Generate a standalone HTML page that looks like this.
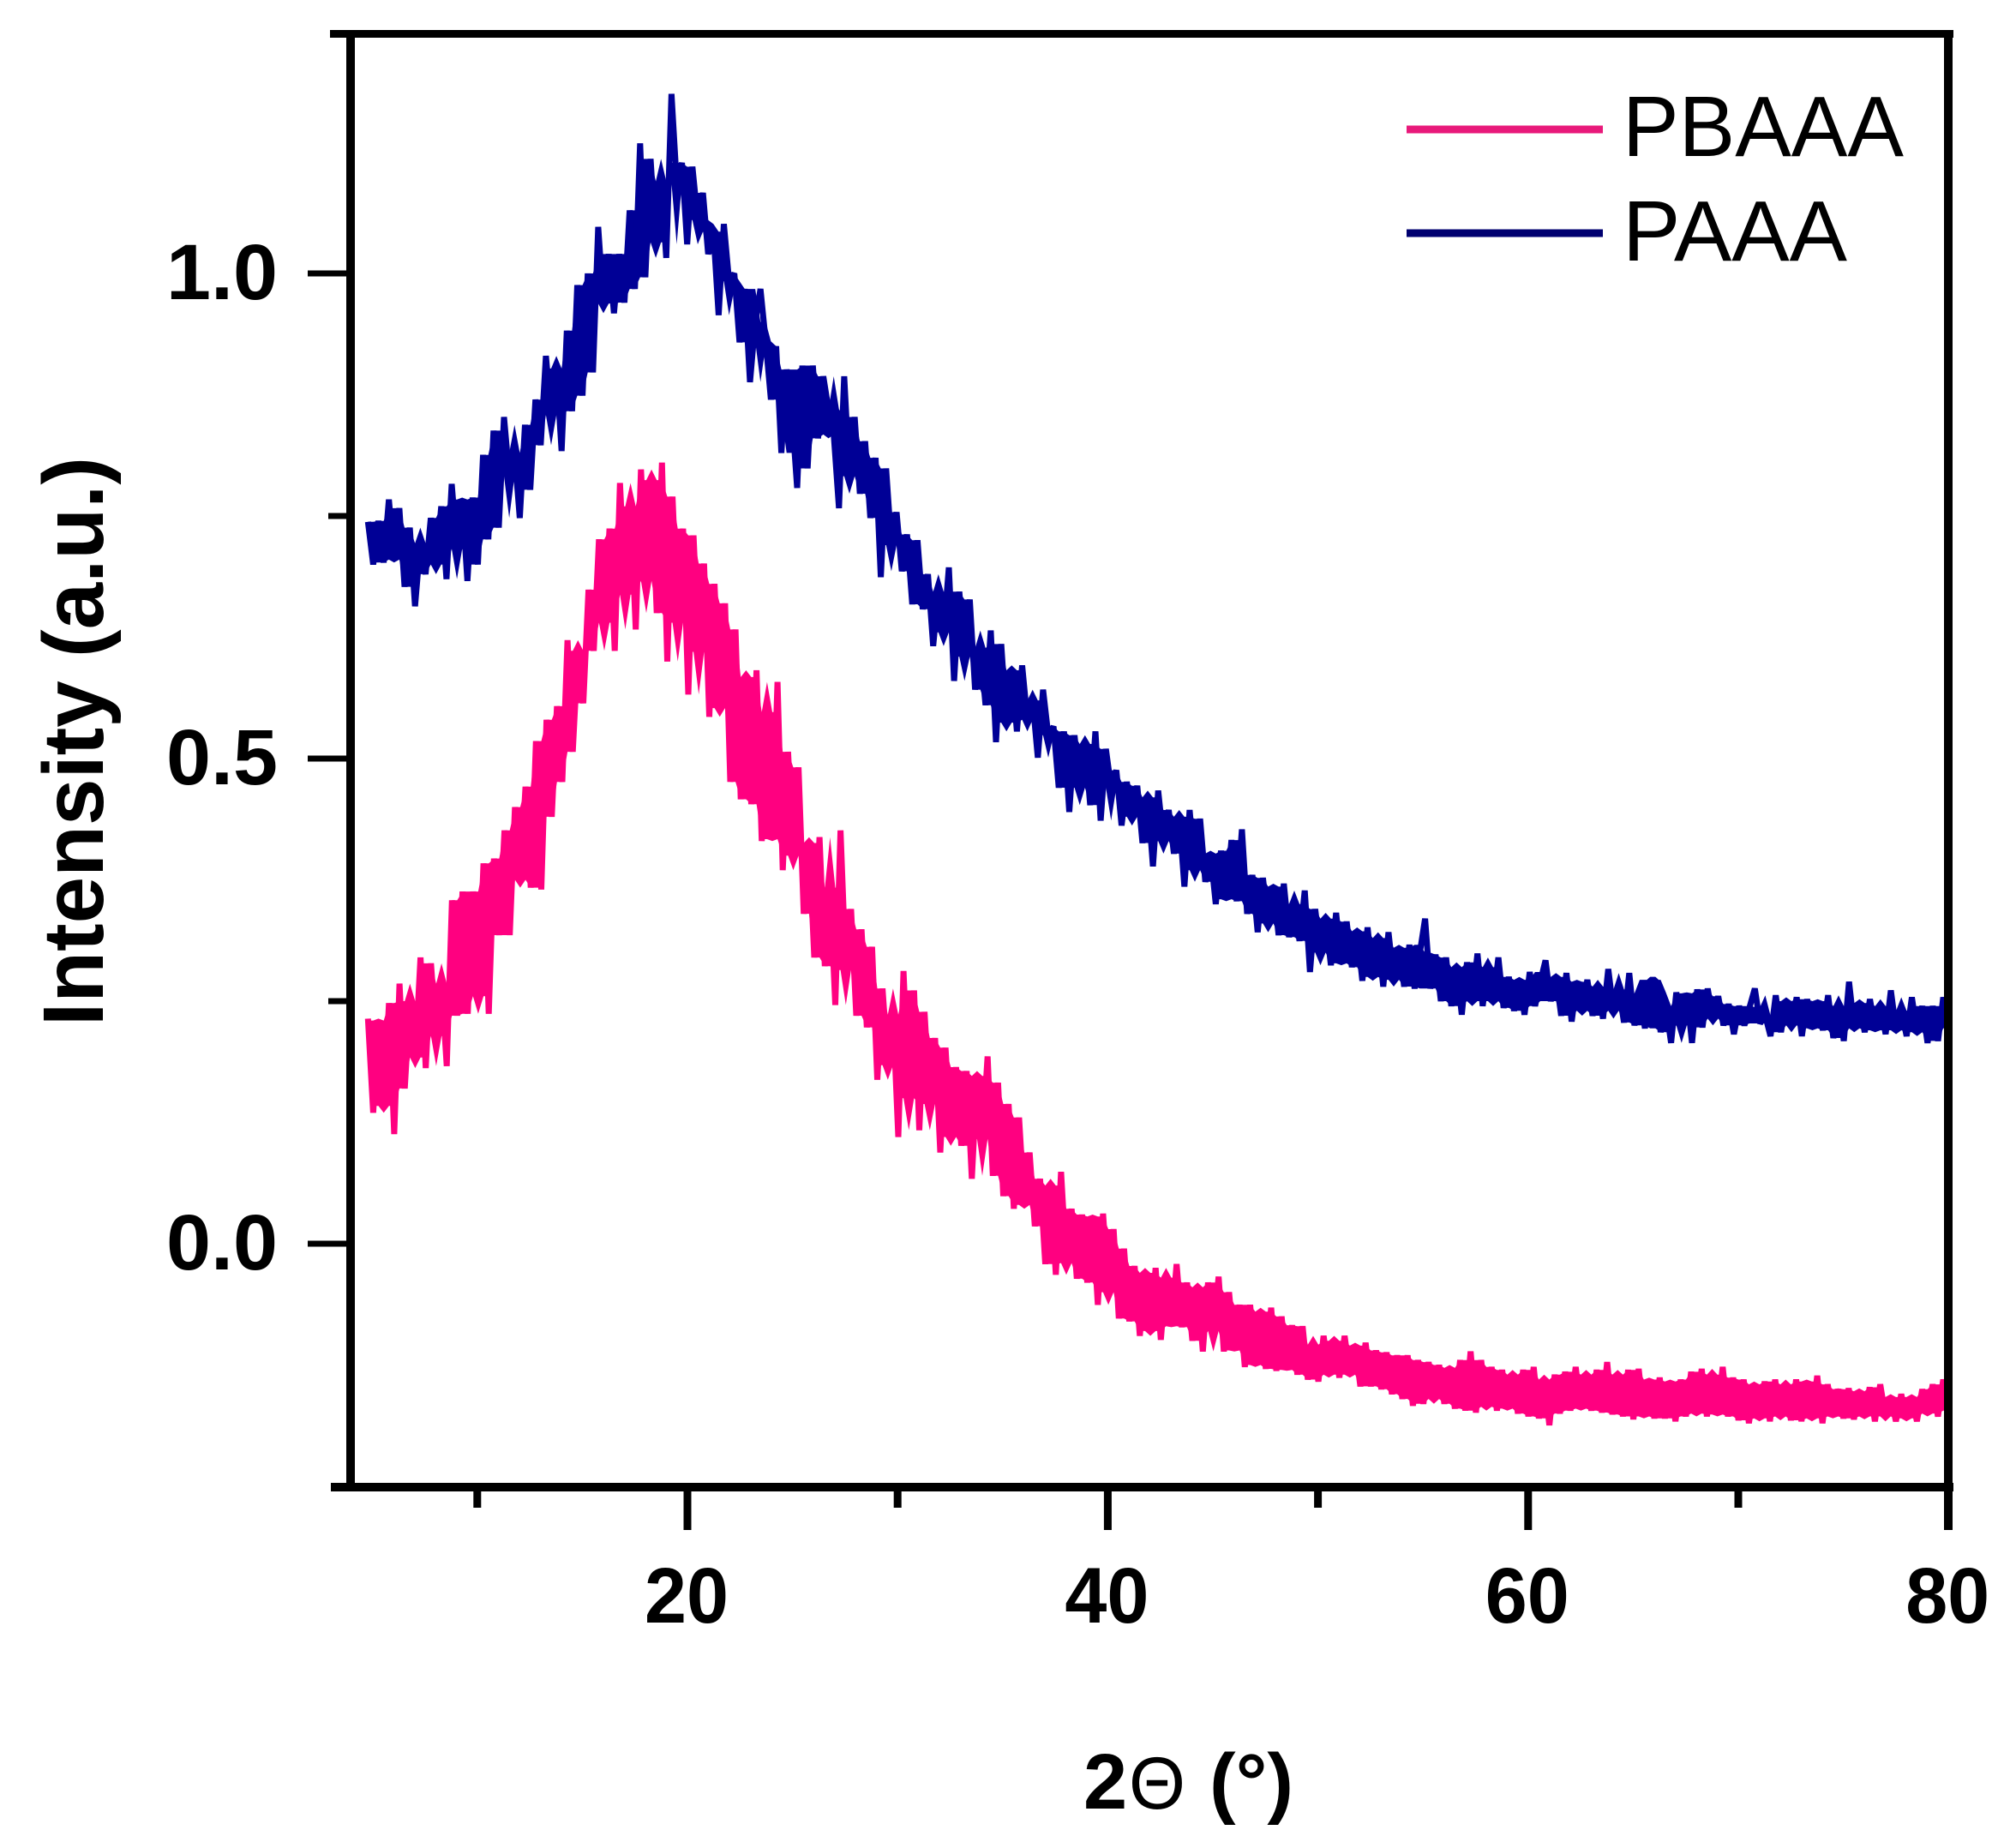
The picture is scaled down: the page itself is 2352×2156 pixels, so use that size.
<!DOCTYPE html>
<html lang="en">
<head>
<meta charset="utf-8">
<title>XRD patterns of PBAAA and PAAA</title>
<style>
html,body{margin:0;padding:0;background:#fff;}
svg{display:block;}
text{font-family:"Liberation Sans",sans-serif;fill:#000;}
</style>
</head>
<body>
<svg id="chart" xmlns="http://www.w3.org/2000/svg" width="2352" height="2156" viewBox="0 0 2352 2156">
  <rect x="0" y="0" width="2352" height="2156" fill="#ffffff"/>
  <g id="series"></g>
  <g id="axes"></g>
  <g id="labels"></g>
  <text transform="translate(120,1197) rotate(-90)" font-size="100" font-weight="700" textLength="664" lengthAdjust="spacingAndGlyphs">Intensity (a.u.)</text>
  <text y="2110" font-size="92" font-weight="700"><tspan x="1264">2</tspan><tspan x="1317" font-size="86" font-weight="400" textLength="66" lengthAdjust="spacingAndGlyphs">Θ</tspan><tspan x="1411">(°)</tspan></text>
  <g>
    <line x1="1641" y1="151" x2="1870" y2="151" stroke="#e8197a" stroke-width="9"/>
    <text x="1893" y="182" font-size="100" textLength="328" lengthAdjust="spacingAndGlyphs">PBAAA</text>
    <line x1="1641" y1="272" x2="1870" y2="272" stroke="#000070" stroke-width="9"/>
    <text x="1893" y="304" font-size="100" textLength="262" lengthAdjust="spacingAndGlyphs">PAAA</text>
  </g>
</svg>
<script>
var xStart = 4.8;
var xEnd = 80;
var xMajorTicks = [20, 40, 60, 80];
var xMinorTicks = [10, 30, 50, 70];
var yMajorTicks = [0, 0.5, 1];
var yMinorTicks = [-0.25, 0.25, 0.75, 1.25];
var xTickLabels = ["20", "40", "60", "80"];
var yTickLabels = ["0.0", "0.5", "1.0"];
var paaaValues = [
.744,.700,.745,.702,.767,.705,.758,.677,.738,.657,.722,.690,.748,.700,.760,.685,.783,.716,.767,.683,
.769,.700,.813,.726,.838,.738,.852,.791,.815,.748,.844,.777,.870,.823,.915,.854,.902,.817,.941,.858,
.988,.874,1.000,.898,1.048,.969,1.020,.959,1.020,.970,1.065,.984,1.134,.996,1.118,1.032,1.095,1.016,1.185,1.093,
1.114,1.030,1.110,1.055,1.083,1.020,1.043,.957,1.051,.992,1.000,.929,.984,.888,.950,.984,.930,.870,.925,.815,
.901,.855,.779,.905,.799,.905,.830,.894,.860,.834,.758,.894,.791,.852,.773,.827,.748,.810,.687,.799,
.720,.754,.693,.731,.659,.725,.654,.690,.616,.672,.630,.697,.580,.672,.605,.664,.571,.614,.555,.632,
.517,.618,.537,.591,.528,.596,.540,.560,.501,.571,.524,.533,.470,.528,.445,.524,.470,.515,.452,.528,
.436,.510,.470,.488,.431,.476,.440,.472,.413,.460,.389,.467,.415,.447,.402,.440,.368,.447,.385,.438,
.373,.402,.350,.405,.355,.416,.353,.427,.340,.380,.321,.377,.330,.368,.318,.371,.316,.350,.312,.364,
.280,.345,.300,.335,.287,.341,.289,.332,.285,.322,.271,.326,.275,.315,.265,.321,.272,.305,.265,.308,
.263,.300,.335,.263,.298,.250,.295,.245,.285,.236,.290,.250,.299,.245,.285,.250,.295,.243,.275,.240,
.272,.236,.280,.245,.270,.292,.250,.275,.235,.279,.229,.270,.240,.272,.235,.265,.232,.283,.240,.262,
.228,.279,.225,.258,.222,.272,.272,.218,.245,.207,.259,.225,.258,.207,.262,.223,.263,.232,.255,.225,
.247,.216,.245,.225,.244,.263,.227,.235,.214,.256,.218,.250,.225,.254,.214,.252,.222,.250,.220,.256,
.212,.245,.209,.270,.222,.248,.218,.252,.220,.245,.216,.261,.220,.240,.214,.254,.218,.245,.207,.245,
.209,.254,.222
];
var pbaaaValues = [
.232,.135,.230,.142,.248,.113,.268,.160,.250,.192,.295,.181,.289,.214,.268,.183,.354,.235,.363,.237,
.363,.255,.392,.237,.397,.318,.426,.318,.450,.375,.471,.367,.518,.365,.540,.440,.554,.476,.622,.507,
.611,.557,.674,.611,.726,.640,.737,.611,.784,.669,.760,.633,.798,.683,.787,.650,.805,.600,.770,.640,
.737,.566,.730,.610,.701,.543,.680,.552,.660,.476,.633,.458,.584,.453,.591,.415,.548,.417,.579,.385,
.507,.400,.491,.340,.413,.295,.419,.286,.367,.246,.426,.282,.345,.235,.324,.223,.306,.169,.263,.184,
.236,.110,.281,.150,.261,.117,.239,.144,.212,.094,.202,.110,.182,.101,.178,.067,.173,.108,.193,.070,
.166,.049,.144,.036,.130,.040,.094,.018,.067,-.021,.060,-.032,.074,-.020,.036,-.036,.030,-.040,.028,-.063,
.031,-.050,.015,-.077,-.005,-.080,-.023,-.095,-.030,-.090,-.025,-.099,-.035,-.085,-.021,-.086,-.040,-.100,-.045,-.111,
-.040,-.090,-.034,-.111,-.050,-.110,-.063,-.127,-.063,-.125,-.070,-.129,-.066,-.131,-.075,-.130,-.084,-.135,-.085,-.140,
-.104,-.142,-.095,-.135,-.100,-.138,-.095,-.135,-.105,-.147,-.102,-.147,-.110,-.150,-.112,-.155,-.115,-.160,-.115,-.167,
-.120,-.165,-.122,-.160,-.125,-.165,-.128,-.170,-.120,-.172,-.111,-.174,-.120,-.168,-.127,-.172,-.130,-.170,-.135,-.175,
-.130,-.178,-.127,-.180,-.140,-.187,-.135,-.175,-.132,-.172,-.127,-.170,-.135,-.172,-.130,-.174,-.122,-.176,-.135,-.178,
-.130,-.181,-.129,-.178,-.140,-.180,-.138,-.180,-.142,-.183,-.140,-.178,-.132,-.175,-.129,-.178,-.135,-.176,-.127,-.178,
-.138,-.182,-.140,-.185,-.145,-.180,-.142,-.183,-.140,-.178,-.145,-.182,-.140,-.183,-.142,-.180,-.136,-.185,-.145,-.178,
-.150,-.180,-.149,-.181,-.152,-.178,-.148,-.183,-.145,-.178,-.158,-.183,-.155,-.180,-.158,-.183,-.150,-.175,-.145,-.178,
-.140,-.172
];

var NS = "http://www.w3.org/2000/svg";
function xScale(d) { return 802 + (d - 20) * 24.52; }
function yScale(v) { return 1451 - 1132 * v; }

var seriesLayer = document.getElementById("series");
var axesLayer = document.getElementById("axes");
var labelsLayer = document.getElementById("labels");

function drawSeries(values, colour) {
  var step = (xEnd - xStart) / (values.length - 1);
  var pts = [];
  for (var i = 0; i < values.length; i++) {
    pts.push(xScale(xStart + i * step).toFixed(1) + "," + yScale(values[i]).toFixed(1));
  }
  var line = document.createElementNS(NS, "polyline");
  line.setAttribute("points", pts.join(" "));
  line.setAttribute("fill", "none");
  line.setAttribute("stroke", colour);
  line.setAttribute("stroke-width", "7");
  line.setAttribute("stroke-linejoin", "bevel");
  return line;
}

// The trace is so dense in the original that it reads as a solid band:
// fill between the 2nd-lowest and 2nd-highest sample of each local window,
// leaving the single extreme spikes to the polyline on top.
function drawBand(values, colour) {
  var step = (xEnd - xStart) / (values.length - 1);
  var upper = [];
  var lower = [];
  for (var i = 0; i < values.length; i++) {
    var from = Math.max(0, i - 2);
    var to = Math.min(values.length - 1, i + 2);
    var win = values.slice(from, to + 1).sort(function (a, b) { return a - b; });
    var x = xScale(xStart + i * step).toFixed(1);
    upper.push(x + "," + yScale(win[win.length - 2]).toFixed(1));
    lower.unshift(x + "," + yScale(win[1]).toFixed(1));
  }
  var band = document.createElementNS(NS, "polygon");
  band.setAttribute("points", upper.concat(lower).join(" "));
  band.setAttribute("fill", colour);
  return band;
}

var pbaaaBand = drawBand(pbaaaValues, "#ff0080");


seriesLayer.appendChild(pbaaaBand);

var pbaaaLine = drawSeries(pbaaaValues, "#ff0080");


seriesLayer.appendChild(pbaaaLine);

var paaaBand = drawBand(paaaValues, "#000096");


seriesLayer.appendChild(paaaBand);

var paaaLine = drawSeries(paaaValues, "#000096");


seriesLayer.appendChild(paaaLine);

function makeRect(x, y, w, h) {
  var r = document.createElementNS(NS, "rect");
  r.setAttribute("x", x);
  r.setAttribute("y", y);
  r.setAttribute("width", w);
  r.setAttribute("height", h);
  r.setAttribute("fill", "#000");
  axesLayer.appendChild(r);
  return r;
}

var leftSpine = makeRect(404, 35, 10, 1705);


var bottomSpine = makeRect(386, 1730, 1893, 10);


var topSpine = makeRect(385, 35, 1894, 9);


var rightSpine = makeRect(2268, 35, 10, 1750);



xMajorTicks.forEach(function (d) {
  var t = makeRect(xScale(d) - 4.5, 1735, 9, 50);
  
  
});
xMinorTicks.forEach(function (d) {
  var t = makeRect(xScale(d) - 4.5, 1735, 9, 24);
  
  
});
yMajorTicks.forEach(function (v) {
  var t = makeRect(359, yScale(v) - 3.5, 46, 7);
  
  
});
yMinorTicks.forEach(function (v) {
  if (v < -0.2 || v > 1.2) { return; }
  var t = makeRect(383, yScale(v) - 3.5, 22, 7);
  
  
});

xMajorTicks.forEach(function (d, i) {
  var t = document.createElementNS(NS, "text");
  t.textContent = xTickLabels[i];
  t.setAttribute("x", xScale(d) - 2 - 48);
  t.setAttribute("y", 1893);
  t.setAttribute("font-size", "92");
  t.setAttribute("font-weight", "700");
  t.setAttribute("textLength", "98");
  t.setAttribute("lengthAdjust", "spacingAndGlyphs");
  
  
  labelsLayer.appendChild(t);
});
yMajorTicks.forEach(function (v, i) {
  var t = document.createElementNS(NS, "text");
  t.textContent = yTickLabels[i];
  t.setAttribute("x", 194);
  t.setAttribute("y", yScale(v) + 30);
  t.setAttribute("font-size", "92");
  t.setAttribute("font-weight", "700");
  t.setAttribute("textLength", "130");
  t.setAttribute("lengthAdjust", "spacingAndGlyphs");
  
  
  labelsLayer.appendChild(t);
});
</script>
</body>
</html>
